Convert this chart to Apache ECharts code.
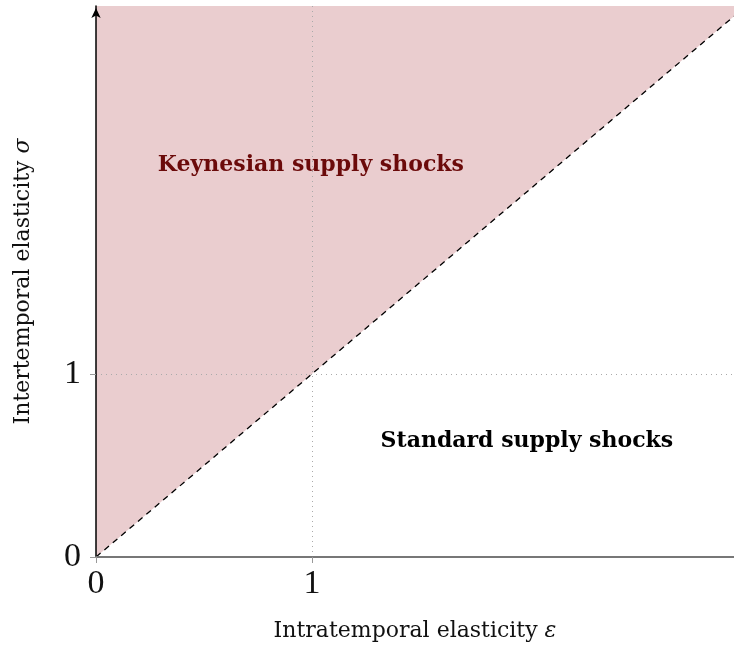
<!DOCTYPE html>
<html><head><meta charset="utf-8">
<script src="https://cdn.jsdelivr.net/npm/echarts@6/dist/echarts.min.js"></script>
<style>html,body{margin:0;padding:0;background:#fff}#c{width:734px;height:649px}</style>
</head><body><div id="c"></div>
<script>
const xRange = [0, 2.954];
const yRange = [0, 3.01];
const tickValues = [0, 1];
const boundaryLine = [[0, 0], [2.954, 2.954]];
const regionLabels = ['Keynesian supply shocks', 'Standard supply shocks'];
const regionLabelPos = [[0.995, 2.14], [1.995, 0.634]];
const regionLabelColors = ['#6b0a0a', '#000000'];
const refX = 1, refY = 1;

const chart = echarts.init(document.getElementById('c'), null, {renderer: 'canvas'});
const serif = '"DejaVu Serif", "Liberation Serif", serif';
const tickFont = '"Liberation Serif", serif';
chart.setOption({
  animation: false,
  grid: {left: 96, right: 0, top: 6, bottom: 92},
  xAxis: {
    type: 'value', min: xRange[0], max: xRange[1], z: 6,
    name: '{n|Intratemporal elasticity }{m|ε}', nameLocation: 'middle', nameGap: 63,
    nameTextStyle: {rich: {n: {fontFamily: serif, fontSize: 22, color: '#111'}, m: {fontFamily: serif, fontSize: 22, fontStyle: 'italic', color: '#111'}}},
    axisLine: {show: true, onZero: false, lineStyle: {color: '#777', width: 2}},
    axisTick: {show: true, length: 6, customValues: tickValues, lineStyle: {color: '#999', width: 1}},
    axisLabel: {customValues: tickValues, fontFamily: tickFont, fontSize: 34, color: '#111', margin: 10},
    splitLine: {show: false}
  },
  yAxis: {
    type: 'value', min: yRange[0], max: yRange[1], z: 6,
    name: '{n|Intertemporal elasticity }{m|σ}', nameLocation: 'middle', nameGap: 62, nameRotate: 90,
    nameTextStyle: {rich: {n: {fontFamily: serif, fontSize: 22, color: '#111'}, m: {fontFamily: serif, fontSize: 22, fontStyle: 'italic', color: '#111'}}},
    axisLine: {show: true, onZero: false, symbol: ['none', 'arrow'], symbolSize: [7, 10], symbolOffset: [0, -2], lineStyle: {color: '#000', width: 1.5}},
    axisTick: {show: true, length: 6, customValues: tickValues, lineStyle: {color: '#999', width: 1}},
    axisLabel: {customValues: tickValues, fontFamily: tickFont, fontSize: 34, color: '#111', margin: 15},
    splitLine: {show: false}
  },
  series: [
    {
      type: 'line', data: boundaryLine, symbol: 'none', z: 3,
      lineStyle: {color: '#000', width: 1.3, type: [6, 5]},
      areaStyle: {origin: 'end', color: 'rgb(234,205,207)', opacity: 1},
      markLine: {
        silent: true, symbol: 'none', label: {show: false},
        lineStyle: {color: '#aaa', type: [1, 4], width: 1},
        data: [{xAxis: refX}, {yAxis: refY}]
      }
    },
    {
      type: 'scatter', symbolSize: 1, z: 5, silent: true,
      itemStyle: {color: 'rgba(0,0,0,0)', opacity: 1},
      data: regionLabelPos.map((p, i) => ({
        value: p, name: regionLabels[i],
        label: {
          show: true, position: 'inside', formatter: '{b}',
          fontFamily: serif, fontSize: 22, fontWeight: 'bold',
          color: regionLabelColors[i], textBorderWidth: 0, textShadowBlur: 0
        }
      }))
    }
  ]
});
</script></body></html>
